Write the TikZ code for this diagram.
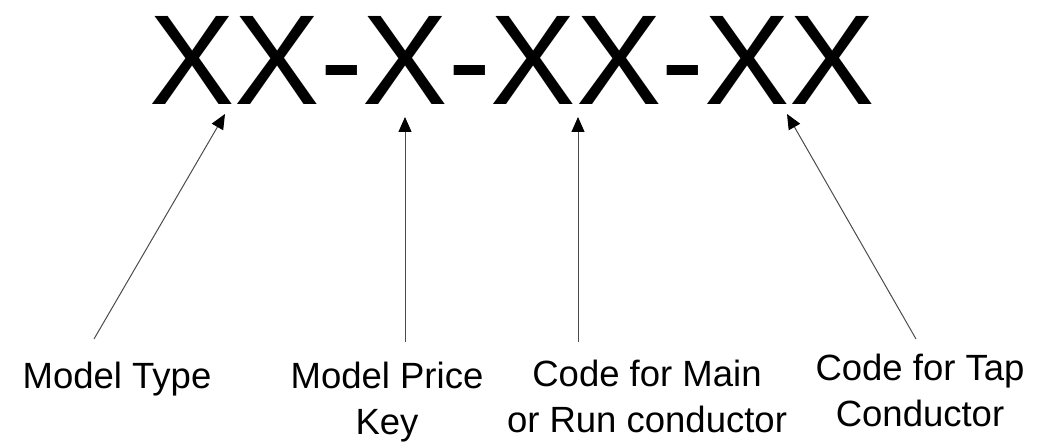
\documentclass[tikz,border=0pt]{standalone}
\usepackage{fontspec}
\setmainfont{Liberation Sans}
\usepackage{tikz}
\usetikzlibrary{arrows.meta}
\tikzset{
  lbl/.style={inner sep=0pt, align=center, anchor=base, font=\fontsize{36.5}{46}\selectfont},
  pointer/.style={draw=black!70, line width=1pt, -{Triangle[length=15pt,width=13pt,color=black]}}
}
\newcommand{\pointer}[2]{\draw[pointer] (#1) -- (#2);}
\begin{document}
\begin{tikzpicture}[x=1pt,y=1pt]
        \useasboundingbox (0,0) rectangle (1049,443);
        \node[inner sep=0pt, anchor=base, font=\fontsize{128}{130}\selectfont] (code) at (512,338) {XX-X-XX-XX};
        % labels (base = last line)
        \node[lbl] (type) at (117,54) {Model Type};
        \node[lbl] (price) at (387,8) {Model Price\\Key};
        \node[lbl] (main) at (647,10) {Code for Main\\or Run conductor};
        \node[lbl] (tap) at (920,16) {Code for Tap\\Conductor};
        % ends of the pointers
        \coordinate (typeA) at (94,104);   \coordinate (typeB) at (225,329);
        \coordinate (priceA) at (405,101); \coordinate (priceB) at (405,326);
        \coordinate (mainA) at (578,101);  \coordinate (mainB) at (578,326);
        \coordinate (tapA) at (916,104);   \coordinate (tapB) at (787,329);
        \pointer{typeA}{typeB}
        \pointer{priceA}{priceB}
        \pointer{mainA}{mainB}
        \pointer{tapA}{tapB}
    \end{tikzpicture}
\end{document}
